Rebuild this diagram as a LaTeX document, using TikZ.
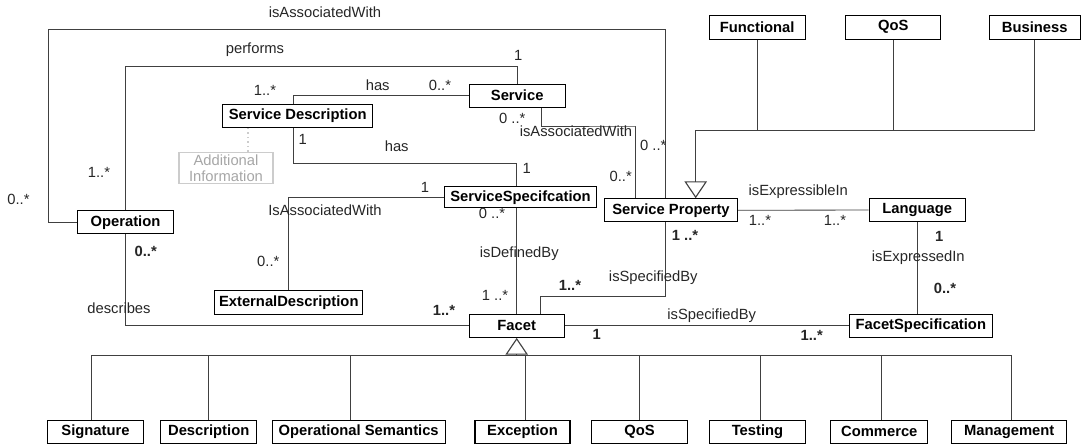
\documentclass[tikz,border=0pt]{standalone}
\usepackage{fontspec}
\setmainfont{Liberation Sans}
\usetikzlibrary{arrows.meta, calc, positioning}

\begin{document}
\begin{tikzpicture}[
    x=0.025cm, y=-0.025cm,
    font=\fontsize{10.5}{12}\selectfont,
    cls/.style={draw=black, line width=0.8pt, fill=white, font=\fontsize{10.5}{12}\selectfont\bfseries, minimum height=0.575cm, inner sep=1pt},
    note/.style={draw=black!20, line width=0.8pt, text=black!35, align=center, minimum height=0.775cm, inner sep=1pt, font=\fontsize{10.5}{11}\selectfont},
    lbl/.style={text=black!85, inner sep=0pt},
    mult/.style={text=black!85, inner sep=0pt},
    multb/.style={text=black!85, inner sep=0pt, font=\fontsize{10.5}{12}\selectfont\bfseries},
    conn/.style={draw=black!75, line width=0.6pt},
    gen/.style={draw=black!75, line width=0.6pt, -{Triangle[open, length=12pt, width=16pt, line width=0.8pt]}},
    dotline/.style={draw=black!20, line width=1.2pt, dotted}
]
\useasboundingbox (0,0) rectangle (1081,447);

% CLASSES
\node[cls, minimum width=3.75cm] (sdesc) at (297.7,115.7) {Service Description};
\node[note, minimum width=2.35cm] (addinfo) at (226,168.3) {Additional\\Information};
\node[cls, minimum width=2.4cm] (oper) at (125.5,222.3) {Operation};
\node[cls, minimum width=2.4cm] (serv) at (517.2,95.7) {Service};
\node[cls, minimum width=3.8cm, minimum height=0.525cm] (sspec) at (520.5,197.2) {ServiceSpecifcation};
\node[cls, minimum width=3.7cm, minimum height=0.6cm] (extd) at (288.8,302.5) {ExternalDescription};
\node[cls, minimum width=3.325cm] (sprop) at (671,210.3) {Service Property};
\node[cls, minimum width=2.4cm, minimum height=0.6cm] (func) at (757.2,27.2) {Functional};
\node[cls, minimum width=2.375cm, minimum height=0.6cm] (qostop) at (893.2,27.2) {QoS};
\node[cls, minimum width=2.275cm, minimum height=0.6cm] (busi) at (1034.8,27.2) {Business};
\node[cls, minimum width=2.4cm] (lang) at (917.2,210) {Language};
\node[cls, minimum width=3.575cm] (fspec) at (920.8,325.8) {FacetSpecification};
\node[cls, minimum width=2.375cm] (facet) at (516.7,325.8) {Facet};

% FACET KINDS
\node[cls, minimum width=2.4cm] (sig) at (95.5,431.7) {Signature};
\node[cls, minimum width=2.4cm] (desc) at (208.7,431.7) {Description};
\node[cls, minimum width=4.325cm] (opsem) at (358.7,431.7) {Operational Semantics};
\node[cls, minimum width=2.375cm] (exc) at (522.5,431.7) {Exception};
\node[cls, minimum width=2.4cm] (qos) at (639.5,431.7) {QoS};
\node[cls, minimum width=2.4cm] (test) at (757.5,431.7) {Testing};
\node[cls, minimum width=2.425cm] (comm) at (879.3,431.7) {Commerce};
\node[cls, minimum width=2.875cm] (mgmt) at (1009.2,431.7) {Management};

% ASSOCIATIONS
\draw[conn] (oper.west) -| (48.3,29.3) -| ($(sprop.north)+(-5.3,0)$);
\draw[conn] (oper.north) |- (516.7,66.7) -| (serv.north);
\draw[conn] ($(sdesc.north)+(-4,0)$) |- (serv.west);
\draw[conn] ($(sdesc.south)+(-4,0)$) |- (516.7,163.3) -| ($(sspec.north)+(-3.8,0)$);
\draw[conn] (sspec.west) -| (extd.north);
\draw[conn] ($(serv.south)+(24.5,0)$) |- (635.7,126) -| ($(sprop.north)+(-35.3,0)$);
\draw[conn] (sprop.east) -- (lang.west);
\draw[conn] (lang.south) -- (lang.south |- fspec.north);
\draw[conn] (facet.east) -- (fspec.west);
\draw[conn] (facet.north |- sspec.south) -- (facet.north);
\draw[conn] ($(sprop.south)+(-5.3,0)$) |- (540,296.7) -| ($(facet.north)+(23.3,0)$);
\draw[conn] (oper.south) |- (facet.west);
\coordinate (noteend) at ($(sdesc.south)+(-50,0)$);
\draw[dotline] (noteend) -- (noteend |- addinfo.north);

% GENERALISATIONS
\coordinate (spgen) at ($(sprop.north)+(24.7,0)$);
\draw[gen] (busi.south) |- (spgen |- 0,130) -- (spgen);
\foreach \n in {func, qostop} \draw[conn] (\n.south) -- (\n.south |- 0,130);
\foreach \n/\dx in {sig/-3.8, desc/0, opsem/-8.7, exc/3.2, qos/0, test/3.2, comm/2.4, mgmt/2.5}
    \draw[conn] ($(\n.north)+(\dx,0)$) |- (facet.south |- 0,355);
\draw[gen] (facet.south |- 0,355) -- (facet.south);

% LABELS
\node[lbl] (l_assoc1) at (325,12.7) {isAssociatedWith};
\node[lbl] (l_perf) at (255,50) {performs};
\node[lbl] (l_has1) at (377.7,85) {has};
\node[lbl] (l_has2) at (396.7,146) {has};
\node[lbl] (l_assoc2) at (325,210) {IsAssociatedWith};
\node[lbl] (l_assoc3) at (576,131.7) {isAssociatedWith};
\node[lbl] (l_expr) at (798.3,191.7) {isExpressibleIn};
\node[lbl] (l_exprd) at (918.3,257.7) {isExpressedIn};
\node[lbl] (l_spec1) at (711.7,315.7) {isSpecifiedBy};
\node[lbl] (l_def) at (519.3,253.3) {isDefinedBy};
\node[lbl] (l_spec2) at (653.3,277.3) {isSpecifiedBy};
\node[lbl] (l_descr) at (119,308.3) {describes};

% MULTIPLICITIES
\node[mult] (m1) at (518.3,55) {1};
\node[mult] (m2) at (99,172.7) {1..*};
\node[mult] (m3) at (18.5,199) {0..*};
\node[mult] (m4) at (440,85) {0..*};
\node[mult] (m5) at (265,90) {1..*};
\node[mult] (m6) at (302.7,139.3) {1};
\node[mult] (m7) at (526.7,168.3) {1};
\node[mult] (m8) at (425,187.3) {1};
\node[mult] (m9) at (268.3,261) {0..*};
\node[mult] (m10) at (512.3,118.3) {0 ..*};
\node[mult] (m11) at (620.7,176.7) {0..*};
\node[mult] (m12) at (653.3,145.7) {0 ..*};
\node[mult] (m13) at (760,220) {1..*};
\node[mult] (m14) at (835,220) {1..*};
\node[mult] (m15) at (492,213.5) {0 ..*};
\node[mult] (m16) at (495,295) {1 ..*};
\node[multb] (m17) at (939.3,236) {1};
\node[multb] (m18) at (945,288.3) {0..*};
\node[multb] (m19) at (596.7,334.3) {1};
\node[multb] (m20) at (811.7,335) {1..*};
\node[multb] (m21) at (685,235) {1 ..*};
\node[multb] (m22) at (570,285) {1..*};
\node[multb] (m23) at (145.7,251.7) {0..*};
\node[multb] (m24) at (444,310) {1..*};

\end{tikzpicture}
\end{document}
